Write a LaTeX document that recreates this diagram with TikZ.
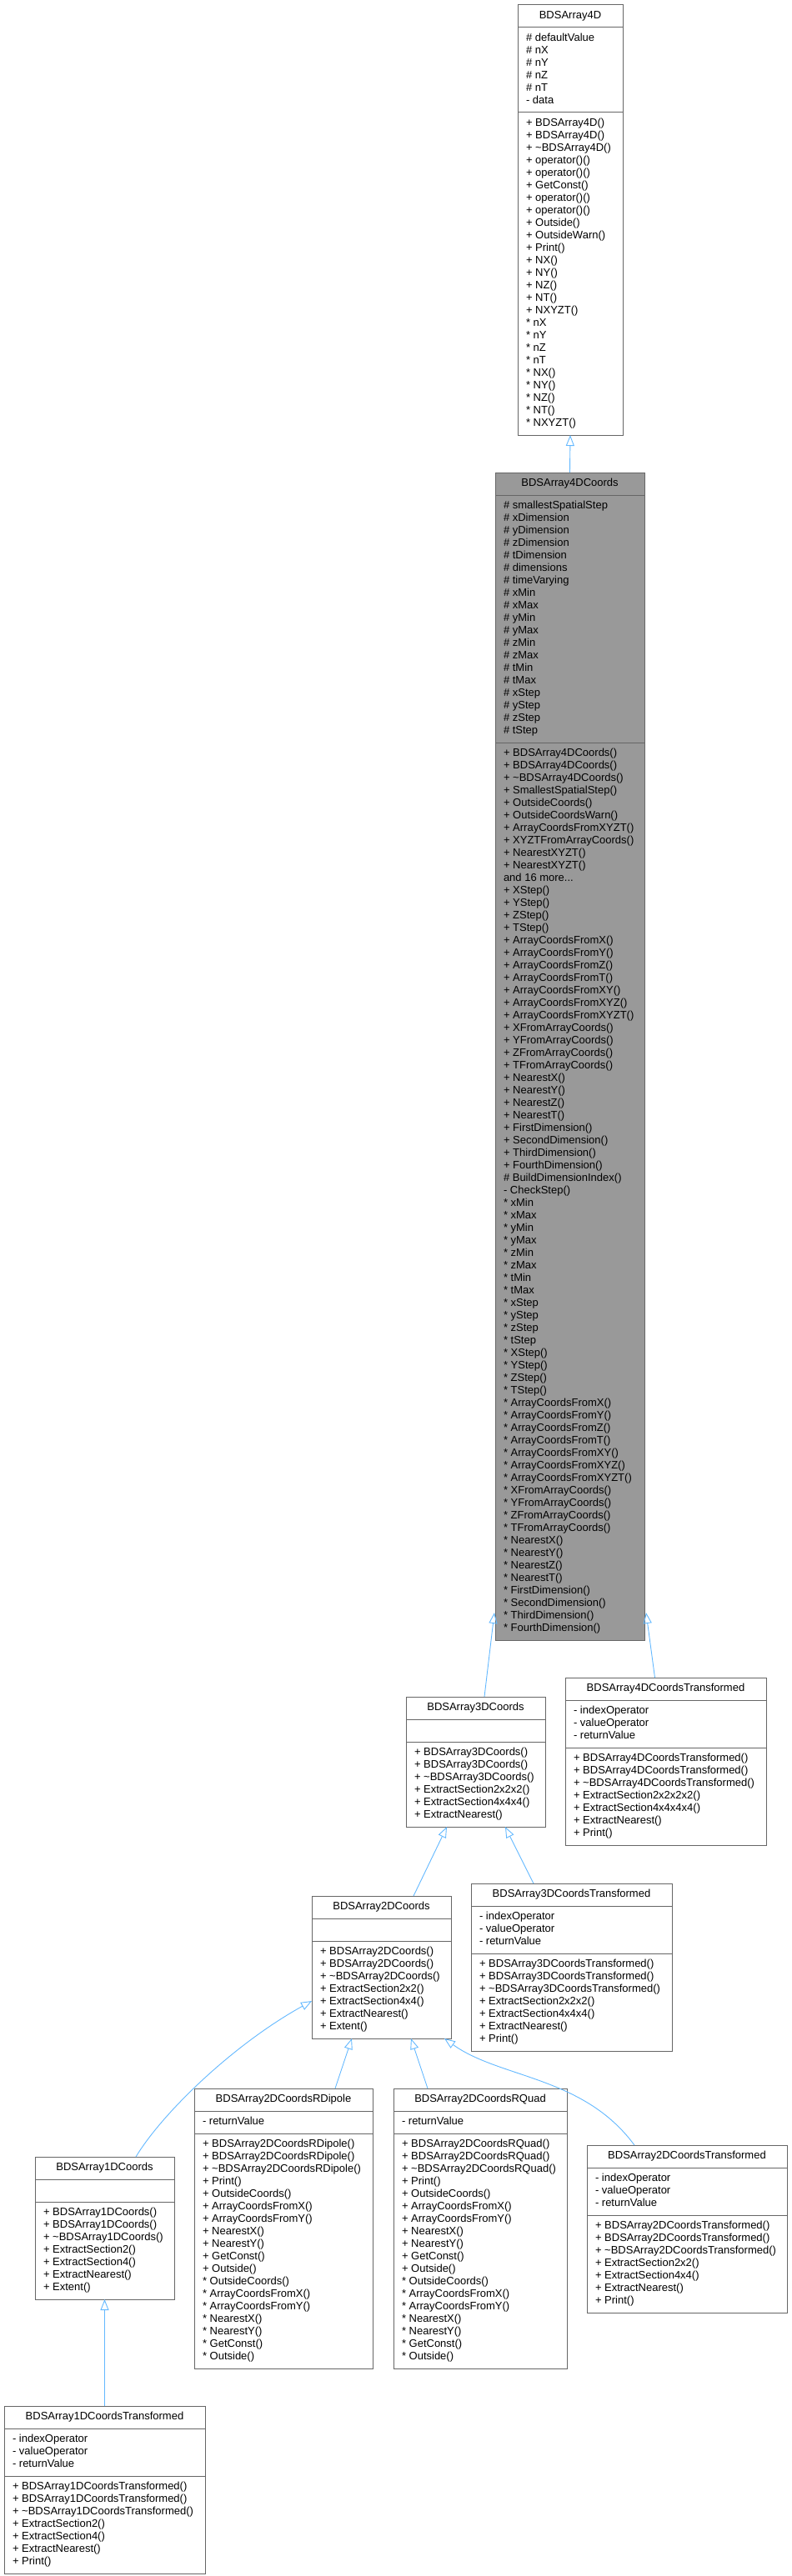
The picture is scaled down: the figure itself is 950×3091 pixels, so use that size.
\documentclass[tikz,border=0pt]{standalone}
\usepackage{fontspec}
\setmainfont{Liberation Sans}
\usetikzlibrary{calc}
\usetikzlibrary{arrows.meta}
\usetikzlibrary{shapes.multipart}

\definecolor{boxline}{HTML}{666666}
\definecolor{boxfill}{HTML}{999999}
\definecolor{edgeblue}{HTML}{63B8FF}

\newcommand{\members}[1]{\vbox{\foreach \m in {#1}{\hbox{\strut\ignorespaces\m\unskip}}}}
\newcommand{\classname}[1]{\strut#1}
\newcommand{\nomembers}{\strut}

\tikzset{
  classbox/.style={rectangle split, rectangle split parts=3, draw=boxline, line width=1pt,
    rectangle split part align={center,left,left}, minimum width=#1,
    fill=white, inner xsep=10pt, inner ysep=5.5pt, outer sep=0pt, anchor=north west,
    font=\fontsize{13}{15}\selectfont},
  basebox/.style={classbox=#1, fill=boxfill},
  inherit/.style={draw=edgeblue, line width=0.9pt, -{Triangle[open,length=13pt,width=10pt]}}
}

\begin{document}
\begin{tikzpicture}[x=1pt,y=-1pt]
                \useasboundingbox (0,0) rectangle (950,3091);

                \node[classbox=126pt] (c4d) at (621,6) {\classname{BDSArray4D}
                  \nodepart{two}\members{\# defaultValue, \# nX, \# nY, \# nZ, \# nT, - data}
                  \nodepart{three}\members{+ BDSArray4D(), + BDSArray4D(), + \textasciitilde BDSArray4D(),
                    + operator()(), + operator()(), + GetConst(), + operator()(), + operator()(),
                    + Outside(), + OutsideWarn(), + Print(), + NX(), + NY(), + NZ(), + NT(), + NXYZT(),
                    * nX, * nY, * nZ, * nT, * NX(), * NY(), * NZ(), * NT(), * NXYZT()}};

                \node[basebox=179pt] (c4dc) at (594,567) {\classname{BDSArray4DCoords}
                  \nodepart{two}\members{\# smallestSpatialStep, \# xDimension, \# yDimension,
                    \# zDimension, \# tDimension, \# dimensions, \# timeVarying, \# xMin, \# xMax,
                    \# yMin, \# yMax, \# zMin, \# zMax, \# tMin, \# tMax, \# xStep, \# yStep,
                    \# zStep, \# tStep}
                  \nodepart{three}\members{+ BDSArray4DCoords(), + BDSArray4DCoords(),
                    + \textasciitilde BDSArray4DCoords(), + SmallestSpatialStep(), + OutsideCoords(),
                    + OutsideCoordsWarn(), + ArrayCoordsFromXYZT(), + XYZTFromArrayCoords(),
                    + NearestXYZT(), + NearestXYZT(), and 16 more.{}.{}., + XStep(), + YStep(),
                    + ZStep(), + TStep(), + ArrayCoordsFromX(), + ArrayCoordsFromY(),
                    + ArrayCoordsFromZ(), + ArrayCoordsFromT(), + ArrayCoordsFromXY(),
                    + ArrayCoordsFromXYZ(), + ArrayCoordsFromXYZT(), + XFromArrayCoords(),
                    + YFromArrayCoords(), + ZFromArrayCoords(), + TFromArrayCoords(), + NearestX(),
                    + NearestY(), + NearestZ(), + NearestT(), + FirstDimension(), + SecondDimension(),
                    + ThirdDimension(), + FourthDimension(), \# BuildDimensionIndex(), - CheckStep(),
                    * xMin, * xMax, * yMin, * yMax, * zMin, * zMax, * tMin, * tMax, * xStep, * yStep,
                    * zStep, * tStep, * XStep(), * YStep(), * ZStep(), * TStep(), * ArrayCoordsFromX(),
                    * ArrayCoordsFromY(), * ArrayCoordsFromZ(), * ArrayCoordsFromT(),
                    * ArrayCoordsFromXY(), * ArrayCoordsFromXYZ(), * ArrayCoordsFromXYZT(),
                    * XFromArrayCoords(), * YFromArrayCoords(), * ZFromArrayCoords(),
                    * TFromArrayCoords(), * NearestX(), * NearestY(), * NearestZ(), * NearestT(),
                    * FirstDimension(), * SecondDimension(), * ThirdDimension(), * FourthDimension()}};

                \node[classbox=167pt] (c3dc) at (487,2036) {\classname{BDSArray3DCoords}
                  \nodepart{two}\nomembers
                  \nodepart{three}\members{+ BDSArray3DCoords(), + BDSArray3DCoords(),
                    + \textasciitilde BDSArray3DCoords(), + ExtractSection2x2x2(),
                    + ExtractSection4x4x4(), + ExtractNearest()}};

                \node[classbox=241pt] (c4dct) at (678,2013) {\classname{BDSArray4DCoordsTransformed}
                  \nodepart{two}\members{- indexOperator, - valueOperator, - returnValue}
                  \nodepart{three}\members{+ BDSArray4DCoordsTransformed(), + BDSArray4DCoordsTransformed(),
                    + \textasciitilde BDSArray4DCoordsTransformed(), + ExtractSection2x2x2x2(),
                    + ExtractSection4x4x4x4(), + ExtractNearest(), + Print()}};

                \node[classbox=241pt] (c3dct) at (565,2260) {\classname{BDSArray3DCoordsTransformed}
                  \nodepart{two}\members{- indexOperator, - valueOperator, - returnValue}
                  \nodepart{three}\members{+ BDSArray3DCoordsTransformed(), + BDSArray3DCoordsTransformed(),
                    + \textasciitilde BDSArray3DCoordsTransformed(), + ExtractSection2x2x2(),
                    + ExtractSection4x4x4(), + ExtractNearest(), + Print()}};

                \node[classbox=167pt] (c2dc) at (374,2275) {\classname{BDSArray2DCoords}
                  \nodepart{two}\nomembers
                  \nodepart{three}\members{+ BDSArray2DCoords(), + BDSArray2DCoords(),
                    + \textasciitilde BDSArray2DCoords(), + ExtractSection2x2(), + ExtractSection4x4(),
                    + ExtractNearest(), + Extent()}};

                \node[classbox=214pt] (c2dd) at (233,2506) {\classname{BDSArray2DCoordsRDipole}
                  \nodepart{two}\members{- returnValue}
                  \nodepart{three}\members{+ BDSArray2DCoordsRDipole(), + BDSArray2DCoordsRDipole(),
                    + \textasciitilde BDSArray2DCoordsRDipole(), + Print(), + OutsideCoords(),
                    + ArrayCoordsFromX(), + ArrayCoordsFromY(), + NearestX(), + NearestY(),
                    + GetConst(), + Outside(), * OutsideCoords(), * ArrayCoordsFromX(),
                    * ArrayCoordsFromY(), * NearestX(), * NearestY(), * GetConst(), * Outside()}};

                \node[classbox=208pt] (c2dq) at (472,2506) {\classname{BDSArray2DCoordsRQuad}
                  \nodepart{two}\members{- returnValue}
                  \nodepart{three}\members{+ BDSArray2DCoordsRQuad(), + BDSArray2DCoordsRQuad(),
                    + \textasciitilde BDSArray2DCoordsRQuad(), + Print(), + OutsideCoords(),
                    + ArrayCoordsFromX(), + ArrayCoordsFromY(), + NearestX(), + NearestY(),
                    + GetConst(), + Outside(), * OutsideCoords(), * ArrayCoordsFromX(),
                    * ArrayCoordsFromY(), * NearestX(), * NearestY(), * GetConst(), * Outside()}};

                \node[classbox=240pt] (c2dct) at (704,2574) {\classname{BDSArray2DCoordsTransformed}
                  \nodepart{two}\members{- indexOperator, - valueOperator, - returnValue}
                  \nodepart{three}\members{+ BDSArray2DCoordsTransformed(), + BDSArray2DCoordsTransformed(),
                    + \textasciitilde BDSArray2DCoordsTransformed(), + ExtractSection2x2(),
                    + ExtractSection4x4(), + ExtractNearest(), + Print()}};

                \node[classbox=167pt] (c1dc) at (42,2588) {\classname{BDSArray1DCoords}
                  \nodepart{two}\nomembers
                  \nodepart{three}\members{+ BDSArray1DCoords(), + BDSArray1DCoords(),
                    + \textasciitilde BDSArray1DCoords(), + ExtractSection2(), + ExtractSection4(),
                    + ExtractNearest(), + Extent()}};

                \node[classbox=241pt] (c1dct) at (5,2887) {\classname{BDSArray1DCoordsTransformed}
                  \nodepart{two}\members{- indexOperator, - valueOperator, - returnValue}
                  \nodepart{three}\members{+ BDSArray1DCoordsTransformed(), + BDSArray1DCoordsTransformed(),
                    + \textasciitilde BDSArray1DCoordsTransformed(), + ExtractSection2(),
                    + ExtractSection4(), + ExtractNearest(), + Print()}};

                \draw[inherit] (c4dc.north) -- (c4d.south);
                \draw[inherit] ($(c3dc.north)+(10.5,0)$) -- ($(c4dc.south west)+(-1,-33)$);
                \draw[inherit] ($(c4dct.north)+(-13,0)$) -- ($(c4dc.south east)+(2,-33)$);
                \draw[inherit] ($(c2dc.north)+(38.5,0)$) -- ($(c3dc.south)+(-34.5,0)$);
                \draw[inherit] ($(c3dct.north)+(-45.5,0)$) -- ($(c3dc.south)+(35.5,0)$);
                \draw[inherit] ($(c1dc.north)+(37.5,0)$) .. controls +(32,-53) and +(-94,52) .. ($(c2dc.south west)+(0,-45)$);
                \draw[inherit] ($(c2dd.north)+(62,0)$) -- ($(c2dc.south)+(-35.5,0)$);
                \draw[inherit] ($(c2dq.north)+(-63,0)$) -- ($(c2dc.south)+(35.5,0)$);
                \draw[inherit] ($(c2dct.north)+(-63,0)$) .. controls +(-61,-83) and +(67,48) .. ($(c2dc.south east)+(-8,0)$);
                \draw[inherit] (c1dct.north) -- (c1dc.south);
\end{tikzpicture}
\end{document}
